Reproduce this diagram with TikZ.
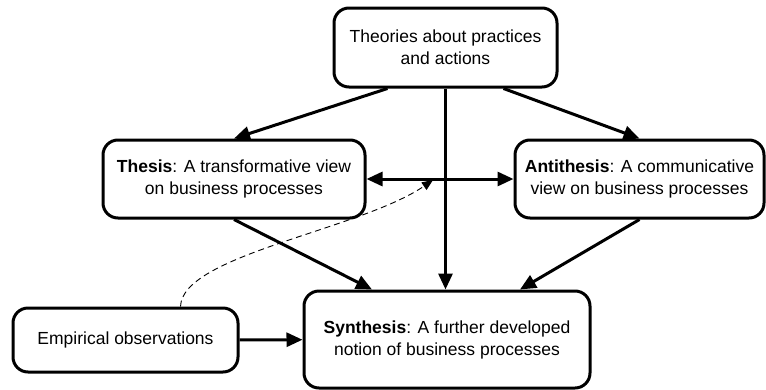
\documentclass[tikz,border=0pt]{standalone}
\usepackage{fontspec}
\setmainfont{Liberation Sans}
\usetikzlibrary{arrows.meta}

\begin{document}
\begin{tikzpicture}[x=1pt, y=-1pt,
  box/.style={draw, line width=3pt, rounded corners=15pt, align=center, inner sep=0pt, font=\fontsize{17.5}{22}\selectfont},
  arr/.style={line width=3pt, -{Triangle[length=16pt,width=14pt]}},
  dblarr/.style={line width=3pt, {Triangle[length=16pt,width=14pt]}-{Triangle[length=16pt,width=14pt]}},
  dasharr/.style={line width=0.9pt, dash pattern=on 6pt off 4pt, -{Triangle[length=11pt,width=9pt]}}]

\useasboundingbox (0,0) rectangle (766,389);

% boxes
\node[box, minimum width=223pt, minimum height=79pt] (theo) at (445.5,47.5) {Theories about practices\\and actions};
\node[box, minimum width=262pt, minimum height=78pt] (thesis) at (234,179) {\textbf{Thesis}: A transformative view\\on business processes};
\node[box, minimum width=249pt, minimum height=78pt] (anti) at (639.5,179) {\textbf{Antithesis}: A communicative\\view on business processes};
\node[box, minimum width=286pt, minimum height=97pt] (synth) at (447,339.5) {\textbf{Synthesis}: A further developed\\notion of business processes};
\node[box, minimum width=225pt, minimum height=64pt] (emp) at (125.5,340) {Empirical observations};

% arrows
\draw[arr] ([xshift=-58pt]theo.south) -- (thesis.north);
\draw[arr] ([xshift=58pt]theo.south) -- (anti.north);
\draw[arr] (theo.south) -- (theo.south |- synth.north);
\draw[dblarr] (thesis) -- (anti);
\draw[arr] (thesis.south) -- ([xshift=-75pt]synth.north);
\draw[arr] (anti.south) -- ([xshift=73pt]synth.north);
\draw[arr] (emp) -- (synth);

\coordinate (dashend) at (433,180);
\draw[dasharr] ([xshift=55pt]emp.north) .. controls (182,255) and (360,230) .. (dashend);

\end{tikzpicture}
\end{document}
